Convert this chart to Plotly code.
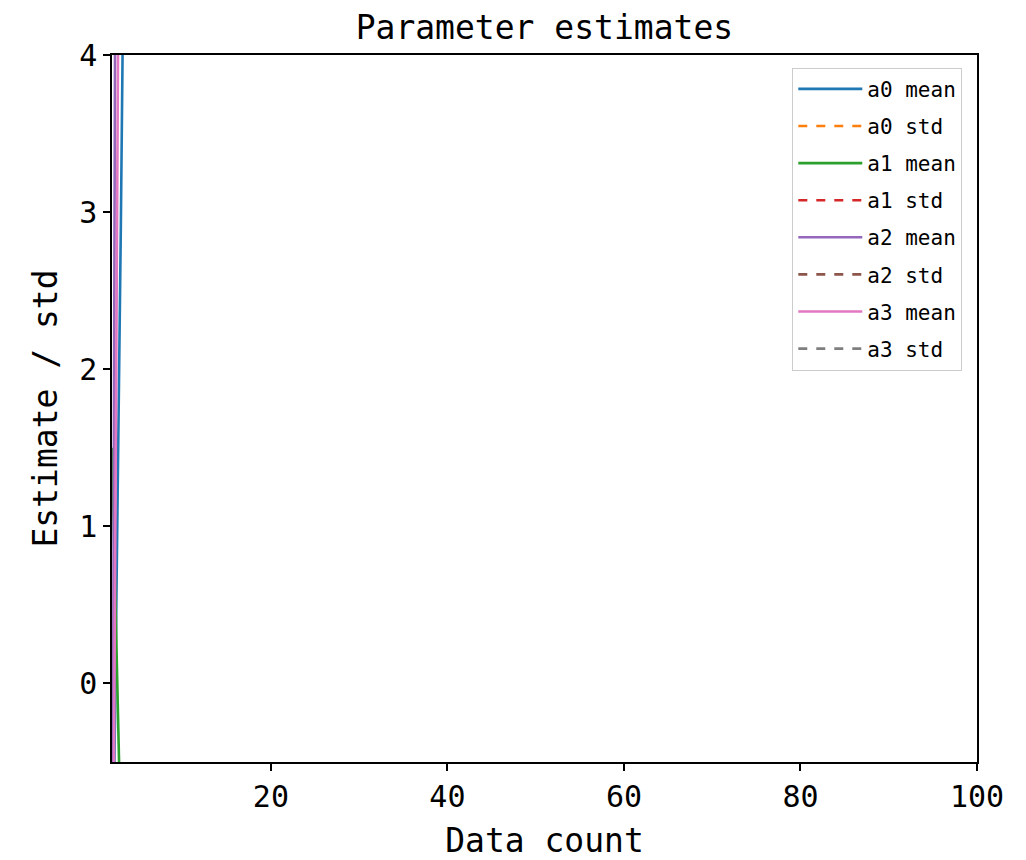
import plotly.graph_objects as go

# Number of data points used for each estimate
counts = [2, 3, 4, 5]

# Posterior means and standard deviations of the four coefficients
a0_mean = [-1.8, 2.9, 8.5, 11.2]
a0_std = [14.6, 9.3, 7.1, 6.2]
a1_mean = [1.5, -1.4, -4.3, -6.0]
a1_std = [11.8, 8.7, 6.9, 5.8]
a2_mean = [-2.7, 17.0, 21.5, 24.3]
a2_std = [18.2, 12.5, 9.6, 8.1]
a3_mean = [-2.8, 7.2, 12.9, 15.4]
a3_std = [16.3, 10.9, 8.4, 7.3]

series = [
    ("a0 mean", a0_mean, "#1f77b4", "solid"),
    ("a0 std", a0_std, "#ff7f0e", "dash"),
    ("a1 mean", a1_mean, "#2ca02c", "solid"),
    ("a1 std", a1_std, "#d62728", "dash"),
    ("a2 mean", a2_mean, "#9467bd", "solid"),
    ("a2 std", a2_std, "#8c564b", "dash"),
    ("a3 mean", a3_mean, "#e377c2", "solid"),
    ("a3 std", a3_std, "#7f7f7f", "dash"),
]

FONT = "DejaVu Sans Mono"

fig = go.Figure()
for name, vals, color, dash in series:
    fig.add_trace(go.Scatter(
        x=counts, y=vals, name=name, mode="lines",
        legendgroup=name,
        line=dict(color=color, width=2.6, dash=dash),
    ))

axis_common = dict(
    showgrid=False, zeroline=False, automargin=False,
    showline=True, linecolor="black", linewidth=1.5, mirror=True,
    ticks="outside", ticklen=7, tickwidth=1.5, tickcolor="black",
    tickfont=dict(family=FONT, size=30, color="black"),
    title_font=dict(family=FONT, size=33, color="black"),
)

fig.update_layout(
    width=1026, height=860,
    margin=dict(l=112, r=49, t=55, b=98),
    paper_bgcolor="white", plot_bgcolor="white",
    title=dict(text="Parameter estimates", x=0.5306, xanchor="center",
               y=0.968, yanchor="middle",
               font=dict(family=FONT, size=33, color="black")),
    xaxis=dict(range=[2, 100], tickvals=[20, 40, 60, 80, 100],
               title=dict(text="Data count", standoff=16), **axis_common),
    yaxis=dict(range=[-0.5, 4], tickvals=[0, 1, 2, 3, 4],
               title=dict(text="Estimate / std", standoff=12), **axis_common),
    legend=dict(x=0.983, y=0.982, xanchor="right", yanchor="top",
                bgcolor="white", bordercolor="#cccccc", borderwidth=1,
                font=dict(family=FONT, size=21, color="black"),
                tracegroupgap=6.8, traceorder="grouped", itemwidth=64),
    showlegend=True,
)

fig.write_html("out.html")
